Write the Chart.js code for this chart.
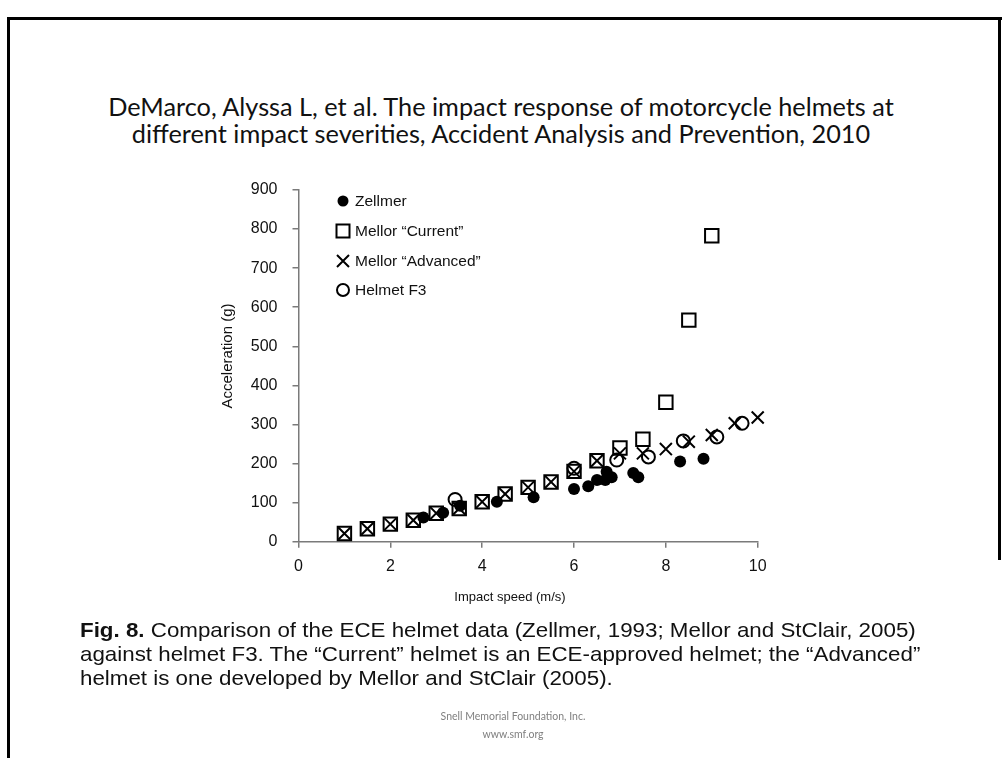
<!DOCTYPE html>
<html>
<head>
<meta charset="utf-8">
<script src="https://cdn.jsdelivr.net/npm/chart.js@4"></script>
<style>
  body { margin: 0; background: #fff; }
  #page { position: relative; width: 1002px; height: 758px; overflow: hidden; background: #fff; }
  #chart { position: absolute; left: 0; top: 0; }
  .frame { position: absolute; background: #000; }
  #title { position: absolute; left: 0; width: 1002px; top: 93px; text-align: center;
           font-family: Lato, "Open Sans", sans-serif; font-size: 25.3px; line-height: 27px; color: #111; }
  #caption { position: absolute; left: 80px; top: 618px; width: 900px; white-space: nowrap;
             transform: scaleX(1.08); transform-origin: 0 0;
             font-family: "Liberation Sans", Arial, sans-serif; font-size: 20.7px; line-height: 24px; color: #111; }
  #footer { position: absolute; left: 12px; width: 1002px; top: 707px; text-align: center;
            font-family: Lato, sans-serif; font-size: 10.5px; line-height: 18px; color: #808080; }
</style>
</head>
<body>
<div id="page">
  <div class="frame" style="left:7px;top:17px;width:3px;height:741px"></div>
  <div class="frame" style="left:7px;top:17px;width:995px;height:3px"></div>
  <div class="frame" style="left:998px;top:17px;width:3px;height:543px"></div>
  <div id="title">DeMarco, Alyssa L, et al. The impact response of motorcycle helmets at<br>different impact severities, Accident Analysis and Prevention, 2010</div>
  <canvas id="chart" width="1002" height="758"></canvas>
  <div id="caption"><b>Fig. 8.</b> Comparison of the ECE helmet data (Zellmer, 1993; Mellor and StClair, 2005)<br>against helmet F3. The “Current” helmet is an ECE-approved helmet; the “Advanced”<br>helmet is one developed by Mellor and StClair (2005).</div>
  <div id="footer">Snell Memorial Foundation, Inc.<br>www.smf.org</div>
</div>
<script>
let zellmerSpeed = [2.72, 3.15, 3.52, 4.32, 5.12, 6.0, 6.31, 6.5, 6.68, 6.71, 6.82, 7.29, 7.4, 8.31, 8.82];
let zellmerAccel = [62, 74, 92, 102, 114, 135, 142, 158, 158, 179, 165, 176, 165, 205, 212];

let currentSpeed = [1, 1.5, 2, 2.5, 3, 3.5, 4, 4.5, 5, 5.5, 6, 6.5, 7, 7.5, 8, 8.5, 9];
let currentAccel = [21, 33, 45, 55, 73, 85, 102, 122, 139, 153, 180, 207, 240, 262, 357, 567, 783];

let advancedSpeed = [1, 1.5, 2, 2.5, 3, 3.5, 4, 4.5, 5, 5.5, 6, 6.5, 7, 7.5, 8, 8.5, 9, 9.5, 10];
let advancedAccel = [21, 33, 45, 55, 73, 85, 102, 122, 139, 153, 180, 207, 226, 226, 237, 256, 273, 303, 318];

let f3Speed = [3.41, 6.0, 6.93, 7.62, 8.38, 9.11, 9.66];
let f3Accel = [108, 188, 209, 217, 258, 268, 303];

let seriesNames = ['Zellmer', 'Mellor \u201cCurrent\u201d', 'Mellor \u201cAdvanced\u201d', 'Helmet F3'];
let xTitle = 'Impact speed (m/s)';
let yTitle = 'Acceleration (g)';

function toPoints(xs, ys) {
    let pts = [];
    for (let i = 0; i < xs.length; i++) {
        pts.push({ x: xs[i], y: ys[i] });
    }
    return pts;
}

const fontFamily = '"Liberation Sans", Arial, sans-serif';
const axisFont = { family: fontFamily, size: 16 };
const axisGray = '#7a7a7a';

// legend sits inside the plot, top left, like the original figure;
// axis titles drawn here too since they are not centred on the plot area
const figureExtras = {
    id: 'figureExtras',
    afterDraw(chart) {
        let c = chart.ctx;
        let x = 343;
        let ys = [201, 231, 261, 290];
        c.save();
        c.strokeStyle = '#000';
        c.fillStyle = '#000';
        c.lineWidth = 2;
        c.beginPath(); c.arc(x, ys[0], 5.5, 0, Math.PI * 2); c.fill();
        c.strokeRect(x - 6.5, ys[1] - 6.5, 13, 13);
        c.beginPath();
        c.moveTo(x - 6, ys[2] - 6); c.lineTo(x + 6, ys[2] + 6);
        c.moveTo(x + 6, ys[2] - 6); c.lineTo(x - 6, ys[2] + 6);
        c.stroke();
        c.beginPath(); c.arc(x, ys[3], 6, 0, Math.PI * 2); c.stroke();

        c.font = '15.5px ' + fontFamily;
        c.textBaseline = 'middle';
        c.textAlign = 'left';
        c.fillStyle = '#111';
        for (let i = 0; i < seriesNames.length; i++) {
            c.fillText(seriesNames[i], x + 12, ys[i] + 1);
        }

        c.textAlign = 'center';
        c.font = '13px ' + fontFamily;
        c.fillText(xTitle, 510, 597);
        c.translate(228, 356);
        c.rotate(-Math.PI / 2);
        c.font = '15px ' + fontFamily;
        c.fillText(yTitle, 0, 0);
        c.restore();
    }
};

new Chart(document.getElementById('chart'), {
    type: 'scatter',
    data: {
        datasets: [
            {
                label: seriesNames[0],
                data: toPoints(zellmerSpeed, zellmerAccel),
                pointStyle: 'circle', pointRadius: 6, clip: false,
                backgroundColor: '#000', borderColor: '#000', borderWidth: 0
            },
            {
                label: seriesNames[1],
                data: toPoints(currentSpeed, currentAccel),
                pointStyle: 'rect', pointRadius: 9.5, clip: false,
                backgroundColor: 'rgba(0,0,0,0)', borderColor: '#000', borderWidth: 2
            },
            {
                label: seriesNames[2],
                data: toPoints(advancedSpeed, advancedAccel),
                pointStyle: 'crossRot', pointRadius: 8.5, clip: false,
                backgroundColor: 'rgba(0,0,0,0)', borderColor: '#000', borderWidth: 2
            },
            {
                label: seriesNames[3],
                data: toPoints(f3Speed, f3Accel),
                pointStyle: 'circle', pointRadius: 6.5, clip: false,
                backgroundColor: 'rgba(0,0,0,0)', borderColor: '#000', borderWidth: 2
            }
        ]
    },
    options: {
        responsive: false,
        animation: false,
        events: [],
        layout: { padding: { left: 215.6, top: 190, right: 244.3, bottom: 150.3 } },
        plugins: { legend: { display: false }, tooltip: { enabled: false } },
        scales: {
            x: {
                type: 'linear', min: 0, max: 10,
                afterFit: function (scale) { scale.height = 66; },
                ticks: { stepSize: 2, font: axisFont, color: '#111', padding: 9, maxRotation: 0 },
                grid: { drawOnChartArea: false, tickLength: 6, color: axisGray, lineWidth: 1.5 },
                border: { color: axisGray, width: 1.5 }
            },
            y: {
                type: 'linear', min: 0, max: 900,
                afterFit: function (scale) { scale.width = 82.9; },
                ticks: { stepSize: 100, font: axisFont, color: '#111', padding: 15 },
                grid: { drawOnChartArea: false, tickLength: 6, color: axisGray, lineWidth: 1.5 },
                border: { color: axisGray, width: 1.5 }
            }
        }
    },
    plugins: [figureExtras]
});
</script>
</body>
</html>
